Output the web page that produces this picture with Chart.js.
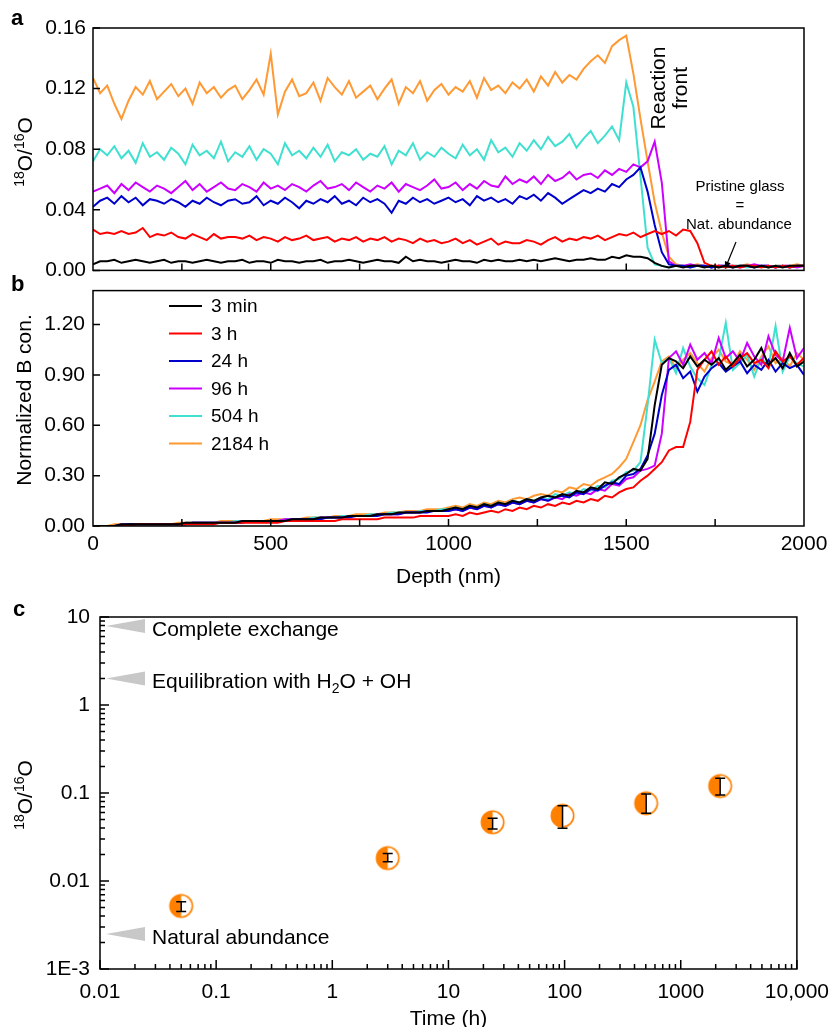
<!DOCTYPE html>
<html><head><meta charset="utf-8">
<script src="https://cdn.jsdelivr.net/npm/chart.js@4.4.0/dist/chart.umd.min.js"></script>
<style>
html,body{margin:0;padding:0;background:#fff;}
#wrap{position:relative;width:840px;height:1027px;overflow:hidden;background:#fff;}
canvas{position:absolute;left:0;}
</style></head><body>
<div id="wrap">
<canvas id="ca" width="840" height="290" style="top:0px"></canvas>
<canvas id="cb" width="840" height="330" style="top:270px"></canvas>
<canvas id="cc" width="840" height="437" style="top:590px"></canvas>
</div>
<script>
// ---------- DATA ----------
const depth = [0,20,40,60,80,100,120,140,160,180,200,220,240,260,280,300,320,340,360,380,400,420,440,460,480,500,520,540,560,580,600,620,640,660,680,700,720,740,760,780,800,820,840,860,880,900,920,940,960,980,1000,1020,1040,1060,1080,1100,1120,1140,1160,1180,1200,1220,1240,1260,1280,1300,1320,1340,1360,1380,1400,1420,1440,1460,1480,1500,1520,1540,1560,1580,1600,1620,1640,1660,1680,1700,1720,1740,1760,1780,1800,1820,1840,1860,1880,1900,1920,1940,1960,1980,2000];
const seriesNames = ['3 min','3 h','24 h','96 h','504 h','2184 h'];

// panel a: 18O/16O, values in units of 1e-3
const o18_3min = [4,6,6,7,5,6,7,6,5,6, 7,5,6,6,5,6,7,6,5,6, 6,7,5,6,6,5,7,6,6,5, 6,6,7,5,6,6,7,6,5,6, 7,6,6,5,9,6,7,6,6,5, 6,7,6,6,5,7,6,7,6,6, 7,6,7,6,7,8,7,6,7,7, 8,7,7,9,8,10,9,9,8,5, 3,2,3,2,3,3,2,3,2,3, 2,3,3,2,3,2,3,2,3,3,3];
const o18_3h = [27,24,25,24,26,24,25,28,22,24, 23,25,22,21,24,22,20,24,21,22, 22,21,23,20,22,21,19,22,20,21, 23,20,21,22,19,21,20,22,19,21, 20,22,19,21,20,18,21,19,20,18, 19,21,18,20,17,19,21,17,19,18, 18,20,19,17,20,22,19,21,20,22, 21,23,20,22,24,23,25,22,24,26, 24,26,23,27,26,18,5,3,3,2, 3,2,3,3,2,3,2,3,2,3,3];
const o18_24h = [42,46,48,44,49,45,48,43,47,46, 44,47,45,42,46,44,48,45,43,46, 47,44,45,49,43,46,44,48,45,41, 46,44,47,45,49,44,46,43,48,45, 47,44,38,46,44,48,45,47,44,46, 48,45,47,43,49,46,48,45,47,44, 49,47,50,46,51,48,44,47,50,53, 51,54,52,57,55,60,63,68,52,30, 12,4,3,3,2,3,3,2,3,3, 2,3,3,2,3,3,2,3,2,3,3];
const o18_96h = [52,54,56,51,57,53,58,55,52,56, 54,51,55,59,53,57,52,55,58,54, 53,57,55,52,58,54,56,53,57,55, 52,56,59,54,55,57,53,58,55,52, 56,54,58,52,57,55,53,56,60,54, 55,58,53,57,54,59,56,55,62,57, 60,58,62,57,63,59,61,65,60,63, 64,61,66,63,67,65,70,68,72,85, 58,6,3,3,4,3,3,2,3,3, 3,2,3,4,3,3,2,3,3,2,3];
const o18_504h = [72,80,76,82,74,79,71,84,75,78, 73,81,77,70,83,76,79,74,85,72, 78,75,82,73,80,77,70,84,76,79, 74,81,75,83,72,78,76,80,73,77, 75,82,70,79,76,84,73,78,75,81, 77,74,83,76,80,73,86,78,81,75, 84,79,86,80,88,82,85,90,81,87, 92,84,89,95,86,124,108,62,15,4, 3,2,3,3,2,3,3,2,3,2, 3,3,2,3,3,2,3,3,2,3,3];
const o18_2184h = [127,117,122,110,100,112,121,116,125,113, 118,123,115,120,110,124,117,121,114,119, 122,113,119,126,116,143,103,118,126,115, 117,124,112,127,121,116,125,114,118,122, 113,120,126,110,121,117,125,112,119,123, 116,121,118,125,114,127,119,122,117,124, 120,126,118,128,122,131,124,129,126,133, 138,142,137,148,152,155,130,100,72,45, 25,9,4,3,3,4,3,3,2,3, 3,3,4,3,3,2,3,3,3,4,3];

// panel b: normalized B concentration, values in percent
const b_3min = [0,0,0,0,1,1,1,1,1,1, 1,1,1,2,2,2,2,2,2,2, 2,3,3,3,3,3,3,3,4,4, 4,4,5,5,5,5,6,6,6,6, 7,7,7,8,8,8,8,9,9,9, 10,11,10,12,11,13,12,14,13,15, 14,16,15,17,18,17,19,18,21,20, 23,22,26,25,29,31,34,33,40,72, 96,100,98,94,101,95,99,96,100,93, 97,102,95,99,106,96,100,94,103,95,98];
const b_3h = [0,0,0,0,0,0,1,1,1,1, 1,1,1,1,1,1,1,1,2,2, 2,2,2,2,2,2,2,3,3,3, 3,3,3,3,3,4,4,4,4,4, 4,5,5,5,5,5,6,6,6,6, 6,7,6,8,7,8,9,8,10,9, 11,10,12,11,13,12,14,13,15,14, 16,15,18,17,20,22,23,27,30,34, 38,45,47,47,62,93,99,104,96,101, 95,100,103,97,99,94,104,98,101,96,100];
const b_24h = [0,0,0,0,0,1,1,1,1,1, 1,1,1,1,2,2,2,2,2,2, 2,2,3,3,3,3,3,3,4,4, 4,4,4,5,5,5,5,6,6,6, 6,7,7,7,8,8,8,8,9,9, 9,10,9,11,10,12,11,13,12,14, 13,15,14,16,15,17,18,17,20,19, 22,21,24,26,25,30,31,34,42,55, 78,93,96,88,92,80,89,94,97,92, 95,98,91,96,93,99,92,97,94,96,90];
const b_96h = [0,0,0,0,1,1,1,1,1,1, 1,1,1,1,2,2,2,2,2,2, 2,3,3,3,3,3,3,4,4,4, 4,4,5,5,5,5,6,6,6,6, 7,7,7,7,8,8,8,9,9,9, 9,10,9,11,10,12,11,13,12,14, 13,15,14,16,15,17,16,19,18,20, 19,22,21,25,24,28,29,33,34,36, 55,100,104,96,108,99,103,97,112,100, 104,98,109,101,96,113,102,98,118,100,106];
const b_504h = [0,0,0,0,1,1,1,1,1,1, 1,1,1,2,2,2,2,2,2,2, 3,3,3,3,3,3,3,4,4,4, 4,5,5,5,5,6,6,6,6,7, 7,7,8,8,8,8,9,9,9,10, 10,11,10,12,11,13,12,14,13,15, 14,16,15,17,16,19,18,20,19,22, 21,24,23,27,28,32,33,38,72,111, 97,100,91,106,95,88,84,96,99,121, 93,97,102,89,100,95,119,92,101,97,95];
const b_2184h = [0,0,0,1,1,1,1,1,1,1, 1,1,2,2,2,2,2,2,3,3, 3,3,3,3,3,4,4,4,4,4, 5,5,5,5,6,6,6,7,7,7, 7,8,8,8,9,9,9,10,10,10, 11,12,11,13,12,14,13,15,14,16, 17,16,18,19,18,21,20,23,22,25, 24,27,29,31,35,40,50,60,75,86, 98,101,94,99,103,97,92,100,105,98, 96,104,99,93,101,107,97,100,95,103,99];

// panel c: bulk 18O/16O vs time
const timeH = [0.05, 3, 24, 96, 504, 2184];
const ratio = [0.0052, 0.0182, 0.0465, 0.0552, 0.0764, 0.120];
const errLow = [0.0045, 0.0166, 0.0389, 0.0397, 0.0588, 0.0948];
const errHigh = [0.0058, 0.0205, 0.0517, 0.0717, 0.0976, 0.1474];
const refValues = [7.9, 2.0, 0.0025];

// ticks
const aYTicks = [0, 0.04, 0.08, 0.12, 0.16];
const bYTicks = [0, 0.3, 0.6, 0.9, 1.2];
const depthTicks = [0, 500, 1000, 1500, 2000];
const depthMinor = [250, 500, 750, 1000, 1250, 1500, 1750];
const cXTicks = [0.01, 0.1, 1, 10, 100, 1000, 10000];
const cXLabels = ['0.01', '0.1', '1', '10', '100', '1000', '10,000'];
const cYTicks = [0.001, 0.01, 0.1, 1, 10];
const cYLabels = ['1E-3', '0.01', '0.1', '1', '10'];

// ---------- STYLE ----------
const FONT = '"Liberation Sans", Arial, Helvetica, sans-serif';
const TICK = 21;
const colors = ['#000000', '#ff0000', '#0000cc', '#cc00ff', '#40e0d0', '#ff9933'];
const markerOrange = '#ff8000';
Chart.defaults.font.family = FONT;
Chart.defaults.color = '#000';

function richText(ctx, parts, x, y, rot, size, align) {
  ctx.save(); ctx.translate(x, y); ctx.rotate(rot);
  const small = Math.round(size * 0.68);
  let w = 0;
  parts.forEach(p => { ctx.font = (p[1] ? small : size) + 'px ' + FONT; w += ctx.measureText(p[0]).width; });
  let cx = align === 'left' ? 0 : -w / 2;
  ctx.textBaseline = 'alphabetic'; ctx.textAlign = 'left'; ctx.fillStyle = '#000';
  const base = size * 0.36;
  parts.forEach(p => {
    ctx.font = (p[1] ? small : size) + 'px ' + FONT;
    const dy = p[1] === 1 ? -size * 0.36 : (p[1] === -1 ? size * 0.22 : 0);
    ctx.fillText(p[0], cx, base + dy);
    cx += ctx.measureText(p[0]).width;
  });
  ctx.restore();
}
function letter(ctx, t, x, y) {
  ctx.save(); ctx.font = 'bold 22px ' + FONT; ctx.fillStyle = '#000';
  ctx.textAlign = 'left'; ctx.textBaseline = 'middle'; ctx.fillText(t, x, y); ctx.restore();
}
const ratioTitle = [['18', 1], ['O/', 0], ['16', 1], ['O', 0]];

function lineSets(arrs, scale) {
  return arrs.map((a, i) => ({
    label: seriesNames[i],
    data: depth.map((d, j) => ({ x: d, y: a[j] / scale })),
    borderColor: colors[i], backgroundColor: colors[i],
    borderWidth: 2, pointRadius: 0, tension: 0, fill: false
  }));
}
function yAxis(ticksArr, min, max, width, pad, fmt) {
  return {
    min: min, max: max,
    grid: { display: false, drawTicks: false }, border: { display: false },
    afterBuildTicks: s => { s.ticks = ticksArr.map(v => ({ value: v })); },
    ticks: { padding: pad, color: '#000', font: { size: TICK }, callback: fmt },
    afterFit: s => { s.width = width; }
  };
}

// ---------- PANEL A ----------
const plugA = {
  id: 'plugA',
  afterDraw(chart) {
    const { ctx, chartArea: ca, scales: { x, y } } = chart;
    ctx.save();
    ctx.strokeStyle = '#000'; ctx.lineWidth = 1.5;
    ctx.strokeRect(ca.left, ca.top, ca.right - ca.left, ca.bottom - ca.top);
    ctx.beginPath();
    aYTicks.forEach(v => { const py = y.getPixelForValue(v); ctx.moveTo(ca.left, py); ctx.lineTo(ca.left + 7, py); });
    depthMinor.forEach(v => { const px = x.getPixelForValue(v); ctx.moveTo(px, ca.bottom); ctx.lineTo(px, ca.bottom - 7); });
    ctx.stroke();
    richText(ctx, ratioTitle, 24, 152, -Math.PI / 2, 21, 'center');
    letter(ctx, 'a', 11, 19);
    // Reaction front
    ctx.save(); ctx.translate(670, 88); ctx.rotate(-Math.PI / 2);
    ctx.font = '21px ' + FONT; ctx.fillStyle = '#000'; ctx.textAlign = 'center'; ctx.textBaseline = 'middle';
    ctx.fillText('Reaction', 0, -11); ctx.fillText('front', 0, 11);
    ctx.restore();
    // Pristine glass
    ctx.font = '15px ' + FONT; ctx.fillStyle = '#000'; ctx.textAlign = 'center'; ctx.textBaseline = 'middle';
    ctx.fillText('Pristine glass', 740, 187);
    ctx.fillText('=', 740, 206);
    ctx.fillText('Nat. abundance', 739, 225);
    // arrow
    ctx.strokeStyle = '#000'; ctx.lineWidth = 1.2;
    ctx.beginPath(); ctx.moveTo(736, 242); ctx.lineTo(727, 264); ctx.stroke();
    const ang = Math.atan2(264 - 242, 727 - 736);
    ctx.beginPath(); ctx.moveTo(725, 269);
    ctx.lineTo(725 - 8 * Math.cos(ang - 0.4), 269 - 8 * Math.sin(ang - 0.4));
    ctx.lineTo(725 - 8 * Math.cos(ang + 0.4), 269 - 8 * Math.sin(ang + 0.4));
    ctx.closePath(); ctx.fillStyle = '#000'; ctx.fill();
    ctx.restore();
  }
};
new Chart(document.getElementById('ca'), {
  type: 'line',
  data: { datasets: lineSets([o18_3min, o18_3h, o18_24h, o18_96h, o18_504h, o18_2184h], 1000) },
  options: {
    responsive: false, animation: false,
    layout: { padding: { top: 28, right: 36, left: 0, bottom: 0 } },
    plugins: { legend: { display: false }, tooltip: { enabled: false } },
    scales: {
      x: { type: 'linear', min: 0, max: 2000, grid: { display: false, drawTicks: false }, border: { display: false },
           ticks: { display: false }, afterFit: s => { s.height = 14; } },
      y: yAxis(aYTicks, 0, 0.16, 93, 7, v => v.toFixed(2))
    }
  },
  plugins: [plugA]
});

// ---------- PANEL B ----------
const plugB = {
  id: 'plugB',
  afterDraw(chart) {
    const { ctx, chartArea: ca, scales: { x, y } } = chart;
    ctx.save();
    ctx.strokeStyle = '#000'; ctx.lineWidth = 1.5;
    ctx.strokeRect(ca.left, ca.top, ca.right - ca.left, ca.bottom - ca.top);
    ctx.beginPath();
    bYTicks.forEach(v => { const py = y.getPixelForValue(v); ctx.moveTo(ca.left, py); ctx.lineTo(ca.left + 7, py); });
    depthMinor.forEach(v => { const px = x.getPixelForValue(v); ctx.moveTo(px, ca.bottom); ctx.lineTo(px, ca.bottom - 7); });
    ctx.stroke();
    // legend
    chart.data.datasets.forEach((ds, i) => {
      const yy = 36 + i * 27.5;
      ctx.strokeStyle = ds.borderColor; ctx.lineWidth = 2;
      ctx.beginPath(); ctx.moveTo(169, yy); ctx.lineTo(202, yy); ctx.stroke();
      ctx.font = '19px ' + FONT; ctx.fillStyle = '#000'; ctx.textAlign = 'left'; ctx.textBaseline = 'middle';
      ctx.fillText(ds.label, 211, yy + 1);
    });
    richText(ctx, [['Normalized B con.', 0]], 23, 130, -Math.PI / 2, 21, 'center');
    richText(ctx, [['Depth (nm)', 0]], (ca.left + ca.right) / 2, 305, 0, 21, 'center');
    letter(ctx, 'b', 11, 15);
    ctx.restore();
  }
};
new Chart(document.getElementById('cb'), {
  type: 'line',
  data: { datasets: lineSets([b_3min, b_3h, b_24h, b_96h, b_504h, b_2184h], 100) },
  options: {
    responsive: false, animation: false,
    layout: { padding: { top: 6, right: 36, left: 0, bottom: 0 } },
    plugins: { legend: { display: false }, tooltip: { enabled: false } },
    scales: {
      x: { type: 'linear', min: 0, max: 2000, grid: { display: false, drawTicks: false }, border: { display: false },
           afterBuildTicks: s => { s.ticks = depthTicks.map(v => ({ value: v })); },
           ticks: { padding: 6, color: '#000', font: { size: TICK }, maxRotation: 0, callback: v => String(v) },
           afterFit: s => { s.height = 74; } },
      y: yAxis(bYTicks, 0, 1.402, 93, 8, v => v.toFixed(2))
    }
  },
  plugins: [plugB]
});

// ---------- PANEL C ----------
function halfMarker(r, color) {
  const c = document.createElement('canvas'); const s = 2 * r + 4; c.width = s; c.height = s;
  const g = c.getContext('2d'); const cx = s / 2, cy = s / 2;
  g.fillStyle = '#fff'; g.beginPath(); g.arc(cx, cy, r, 0, 2 * Math.PI); g.fill();
  g.fillStyle = color; g.beginPath(); g.arc(cx, cy, r, Math.PI / 2, 3 * Math.PI / 2); g.closePath(); g.fill();
  g.strokeStyle = color; g.lineWidth = 1.6; g.beginPath(); g.arc(cx, cy, r - 0.3, 0, 2 * Math.PI); g.stroke();
  return c;
}
const refLabels = [
  [['Complete exchange', 0]],
  [['Equilibration with H', 0], ['2', -1], ['O + OH', 0]],
  [['Natural abundance', 0]]
];
const plugC = {
  id: 'plugC',
  afterDatasetsDraw(chart) {
    const { ctx, scales: { x, y } } = chart;
    ctx.save(); ctx.strokeStyle = '#000'; ctx.lineWidth = 1.5;
    timeH.forEach((t, i) => {
      const px = x.getPixelForValue(t);
      const lo = y.getPixelForValue(errLow[i]), hi = y.getPixelForValue(errHigh[i]);
      ctx.beginPath();
      ctx.moveTo(px, lo); ctx.lineTo(px, hi);
      ctx.moveTo(px - 5, lo); ctx.lineTo(px + 5, lo);
      ctx.moveTo(px - 5, hi); ctx.lineTo(px + 5, hi);
      ctx.stroke();
    });
    ctx.restore();
  },
  afterDraw(chart) {
    const { ctx, chartArea: ca, scales: { x, y } } = chart;
    ctx.save();
    ctx.strokeStyle = '#000'; ctx.lineWidth = 1.5;
    ctx.strokeRect(ca.left, ca.top, ca.right - ca.left, ca.bottom - ca.top);
    ctx.beginPath();
    cYTicks.forEach((v, k) => {
      const py = y.getPixelForValue(v); ctx.moveTo(ca.left, py); ctx.lineTo(ca.left + 9, py);
      if (k < cYTicks.length - 1) for (let m = 2; m <= 9; m++) {
        const q = y.getPixelForValue(v * m); ctx.moveTo(ca.left, q); ctx.lineTo(ca.left + 5, q);
      }
    });
    cXTicks.forEach((v, k) => {
      const px = x.getPixelForValue(v); ctx.moveTo(px, ca.bottom); ctx.lineTo(px, ca.bottom - 9);
      if (k < cXTicks.length - 1) for (let m = 2; m <= 9; m++) {
        const q = x.getPixelForValue(v * m); ctx.moveTo(q, ca.bottom); ctx.lineTo(q, ca.bottom - 5);
      }
    });
    ctx.stroke();
    refValues.forEach((v, i) => {
      const py = y.getPixelForValue(v);
      ctx.fillStyle = '#c8c8c8';
      ctx.beginPath(); ctx.moveTo(ca.left + 6, py); ctx.lineTo(ca.left + 45, py - 7); ctx.lineTo(ca.left + 45, py + 7);
      ctx.closePath(); ctx.fill();
      richText(ctx, refLabels[i], ca.left + 52, py + 2, 0, 21, 'left');
    });
    richText(ctx, ratioTitle, 24, 205, -Math.PI / 2, 21, 'center');
    richText(ctx, [['Time (h)', 0]], (ca.left + ca.right) / 2, 427, 0, 21, 'center');
    letter(ctx, 'c', 13, 20);
    ctx.restore();
  }
};
new Chart(document.getElementById('cc'), {
  type: 'scatter',
  data: { datasets: [{
    label: '18O/16O',
    data: timeH.map((t, i) => ({ x: t, y: ratio[i] })),
    pointStyle: halfMarker(11.5, markerOrange), pointRadius: 12, clip: false
  }] },
  options: {
    responsive: false, animation: false,
    layout: { padding: { top: 27, right: 35, left: 0, bottom: 0 } },
    plugins: { legend: { display: false }, tooltip: { enabled: false } },
    scales: {
      x: { type: 'logarithmic', min: 0.01, max: 10000, grid: { display: false, drawTicks: false }, border: { display: false },
           afterBuildTicks: s => { s.ticks = cXTicks.map(v => ({ value: v })); },
           ticks: { padding: 11, color: '#000', font: { size: TICK }, maxRotation: 0, autoSkip: false, callback: (v, i) => cXLabels[i] },
           afterFit: s => { s.height = 58; } },
      y: { type: 'logarithmic', min: 0.001, max: 10, grid: { display: false, drawTicks: false }, border: { display: false },
           afterBuildTicks: s => { s.ticks = cYTicks.map(v => ({ value: v })); },
           ticks: { padding: 10, color: '#000', font: { size: TICK }, autoSkip: false, callback: (v, i) => cYLabels[i] },
           afterFit: s => { s.width = 100; } }
    }
  },
  plugins: [plugC]
});
</script>
</body></html>
